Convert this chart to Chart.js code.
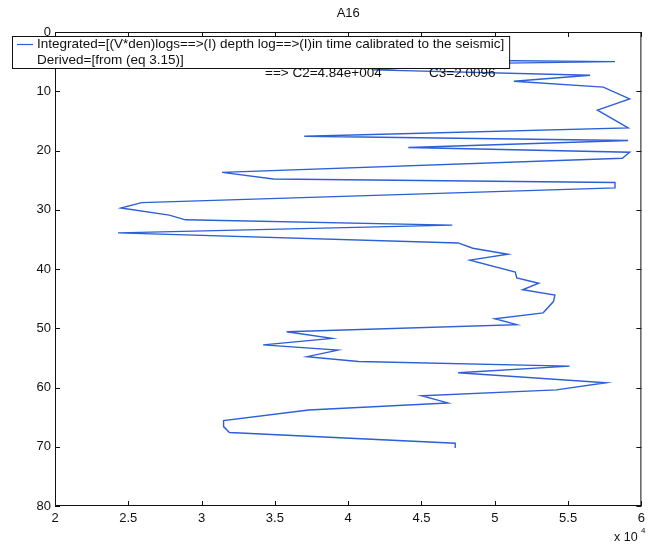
<!DOCTYPE html>
<html>
<head>
<meta charset="utf-8">
<script src="https://cdn.jsdelivr.net/npm/chart.js@4.4.0/dist/chart.umd.min.js"></script>
<style>
  html, body { margin: 0; padding: 0; background: #fff; }
  #wrap { position: relative; width: 650px; height: 546px; }
</style>
</head>
<body>
<div id="wrap"><canvas id="chart"></canvas></div>
<script>
// depth of each sample (y axis, increases downward)
const depths = [4.8, 5.0, 5.3, 6.4, 7.3, 8.3, 9.3, 11.3, 13.2, 16.2,
  17.6, 18.3, 19.5, 20.3, 21.3, 23.7, 24.8, 25.4, 26.3, 28.8,
  29.7, 30.9, 31.7, 32.6, 33.9, 35.6, 36.5, 37.5, 38.5, 40.5,
  41.5, 42.4, 43.5, 44.4, 45.5, 47.4, 48.4, 49.4, 50.6, 51.7,
  52.8, 53.7, 54.8, 55.6, 56.4, 57.5, 59.2, 60.4, 61.4, 62.6,
  63.8, 65.6, 66.6, 67.6, 69.4, 70.2];

// integrated log value at each depth
const values = [49500, 58200, 49500, 41700, 56500, 51300, 57400, 59200, 57000, 59100,
  37000, 59100, 44100, 59200, 58700, 31400, 34900, 58200, 58200, 25900,
  24500, 27800, 28900, 47100, 24300, 47500, 48500, 50900, 48300, 51400,
  51500, 53000, 51900, 54100, 54000, 53300, 50000, 51500, 35800, 38900,
  34200, 39300, 37200, 40700, 55100, 47500, 57600, 54200, 45000, 46800,
  37300, 31500, 31500, 31900, 47300, 47300];

const xMin = 20000, xMax = 60000, xStep = 5000;
const yMin = 0, yMax = 80, yStep = 10;

const chartTitle = 'A16';
const seriesLabels = [
  'Integrated=[(V*den)logs==>(I) depth log==>(I)in time calibrated to the seismic]',
  'Derived=[from (eq 3.15)]'
];
const noteC2 = '==> C2=4.84e+004';
const noteC3 = 'C3=2.0096';

const fontFamily = '"Liberation Sans", Arial, Helvetica, sans-serif';
Chart.defaults.font.family = fontFamily;
Chart.defaults.color = '#111';

const points = depths.map((d, i) => ({ x: values[i], y: d }));

// box, inward ticks, legend and notes drawn on top (matlab look)
const framePlugin = {
  id: 'frame',
  afterDraw(chart) {
    const { ctx, chartArea: a, scales } = chart;
    const len = 5;
    ctx.save();
    ctx.strokeStyle = '#111';
    ctx.lineWidth = 1;
    ctx.strokeRect(a.left + 0.5, a.top + 0.5, a.width - 1, a.height - 1);

    ctx.beginPath();
    scales.x.ticks.forEach(t => {
      const px = Math.round(scales.x.getPixelForValue(t.value)) + 0.5;
      ctx.moveTo(px, a.bottom); ctx.lineTo(px, a.bottom - len);
      ctx.moveTo(px, a.top); ctx.lineTo(px, a.top + len);
    });
    scales.y.ticks.forEach(t => {
      const py = Math.round(scales.y.getPixelForValue(t.value)) + 0.5;
      ctx.moveTo(a.left, py); ctx.lineTo(a.left + len, py);
      ctx.moveTo(a.right, py); ctx.lineTo(a.right - len, py);
    });
    ctx.stroke();

    // exponent label under the x axis
    ctx.fillStyle = '#111';
    ctx.textBaseline = 'alphabetic';
    ctx.textAlign = 'left';
    ctx.font = '12.5px ' + fontFamily;
    ctx.fillText('x 10', 614, 541);
    ctx.font = '8px ' + fontFamily;
    ctx.fillText('4', 641, 533);

    // notes
    ctx.font = '13.5px ' + fontFamily;
    ctx.textBaseline = 'middle';
    ctx.fillText(noteC2, 265, 73);
    ctx.fillText(noteC3, 429, 73);

    // legend box
    const ds = chart.data.datasets;
    const textX = 37;
    let w = 0;
    ds.forEach(d => { w = Math.max(w, ctx.measureText(d.label).width); });
    const bx = 12, by = 36, bw = textX - bx + w + 5, bh = 32;
    ctx.fillStyle = '#fff';
    ctx.fillRect(bx, by, bw, bh);
    ctx.strokeStyle = '#111';
    ctx.strokeRect(bx + 0.5, by + 0.5, bw, bh);
    ds.forEach((d, i) => {
      const cy = by + 8.5 + i * 15.5;
      ctx.strokeStyle = d.borderColor;
      ctx.lineWidth = 1.2;
      ctx.beginPath();
      ctx.moveTo(17, cy); ctx.lineTo(33, cy);
      ctx.stroke();
      ctx.fillStyle = '#111';
      ctx.fillText(d.label, textX, cy);
    });
    ctx.restore();
  }
};

new Chart(document.getElementById('chart'), {
  type: 'scatter',
  data: {
    datasets: [{
      label: seriesLabels[0],
      data: points,
      showLine: true,
      borderColor: '#2d5fd6',
      borderWidth: 1.4,
      pointRadius: 0,
      tension: 0
    }, {
      label: seriesLabels[1],
      data: [],
      showLine: true,
      borderColor: 'rgba(0,0,0,0)',
      pointRadius: 0
    }]
  },
  options: {
    responsive: true,
    maintainAspectRatio: false,
    animation: false,
    layout: { padding: { right: 5 } },
    plugins: {
      legend: { display: false },
      tooltip: { enabled: false },
      title: {
        display: true,
        text: chartTitle,
        fullSize: false,
        color: '#111',
        font: { size: 13, weight: 'normal' },
        padding: { top: 6, bottom: 10.4 }
      }
    },
    scales: {
      x: {
        type: 'linear',
        min: xMin,
        max: xMax,
        grid: { display: false, drawTicks: false },
        border: { display: false },
        ticks: {
          stepSize: xStep,
          padding: 5,
          font: { size: 13 },
          color: '#111',
          callback: v => String(v / 10000)
        },
        afterFit: s => { s.height = 40; }
      },
      y: {
        type: 'linear',
        reverse: true,
        min: yMin,
        max: yMax,
        grid: { display: false, drawTicks: false },
        border: { display: false },
        ticks: {
          stepSize: yStep,
          padding: 4,
          font: { size: 13 },
          color: '#111'
        },
        afterFit: s => { s.width = 55; }
      }
    }
  },
  plugins: [framePlugin]
});
</script>
</body>
</html>
